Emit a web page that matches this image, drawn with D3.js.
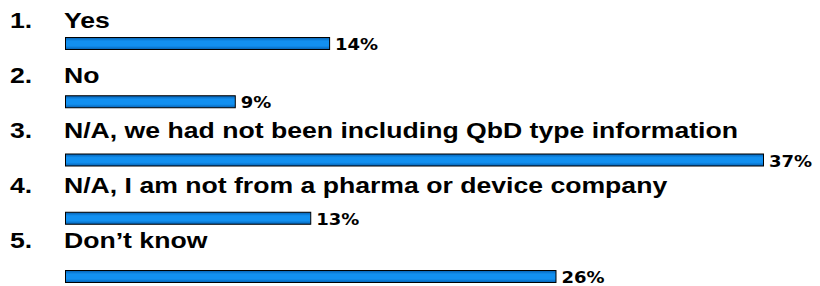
<!DOCTYPE html>
<html><head><meta charset="utf-8">
<script src="https://cdn.jsdelivr.net/npm/d3@7"></script>
<style>body{margin:0;background:#fff}</style>
</head><body>
<svg id="c" width="820" height="286"></svg>
<script>
const numbers = ["1.", "2.", "3.", "4.", "5."];
const categories = ["Yes", "No", "N/A, we had not been including QbD type information", "N/A, I am not from a pharma or device company", "Don\u2019t know"];
const values = [14, 9, 37, 13, 26];
const valueLabels = ["14%", "9%", "37%", "13%", "26%"];

const svg = d3.select("#c");
const defs = svg.append("defs");
const g = defs.append("linearGradient").attr("id","bg").attr("x1",0).attr("y1",0).attr("x2",0).attr("y2",1);
g.append("stop").attr("offset","0%").attr("stop-color","#0660b0");
g.append("stop").attr("offset","30%").attr("stop-color","#1290f0");
g.append("stop").attr("offset","70%").attr("stop-color","#1290f0");
g.append("stop").attr("offset","100%").attr("stop-color","#0660b0");

const x = d3.scaleLinear().domain([0, 37]).range([65, 763]);
const yBar = d3.scaleLinear().domain([0, 4]).range([37, 270]);
const yLab = d3.scaleLinear().domain([0, 4]).range([28, 248]);
const barH = 12;
const sx = 1.21;

const rows = svg.selectAll("g.row").data(values).join("g").attr("class","row");

rows.append("text").attr("transform", (d,i)=>`translate(10,${yLab(i)}) scale(${sx},1)`)
  .attr("font-family","Liberation Sans, Arial, sans-serif").attr("font-weight","bold")
  .attr("font-size", 22).attr("fill","#000").text((d,i)=>numbers[i]);
rows.append("text").attr("transform", (d,i)=>`translate(64,${yLab(i)}) scale(${sx},1)`)
  .attr("font-family","Liberation Sans, Arial, sans-serif").attr("font-weight","bold")
  .attr("font-size", 22).attr("fill","#000").text((d,i)=>categories[i]);

rows.append("rect").attr("x", x(0)+0.5).attr("y", (d,i)=>yBar(i)+0.5)
  .attr("width", d=>x(d)-x(0)).attr("height", barH)
  .attr("fill","url(#bg)").attr("stroke","#000").attr("stroke-width",1);

rows.append("text").attr("transform", (d,i)=>`translate(${x(d)+6},${yBar(i)+barH+1}) scale(1.2,1)`)
  .attr("font-family","DejaVu Sans, Verdana, sans-serif").attr("font-weight","bold")
  .attr("font-size", 15).attr("fill","#000").text((d,i)=>valueLabels[i]);
</script>
</body></html>
